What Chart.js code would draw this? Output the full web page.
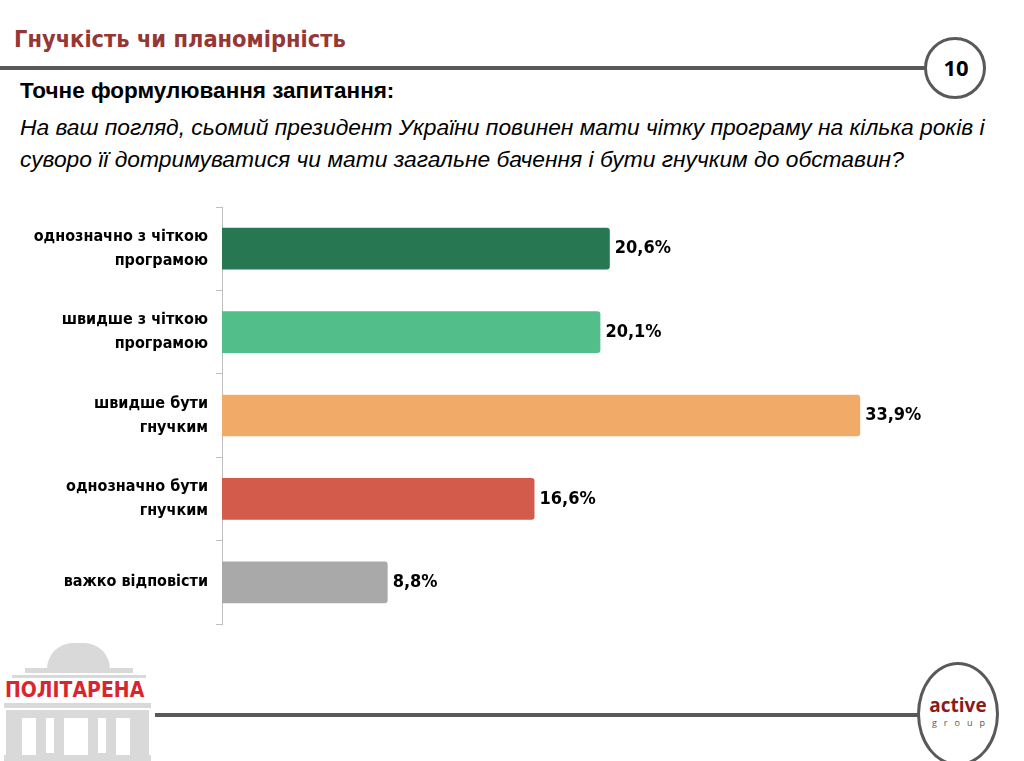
<!DOCTYPE html>
<html>
<head>
<meta charset="utf-8">
<script src="https://cdn.jsdelivr.net/npm/chart.js@4.4.1/dist/chart.umd.min.js"></script>
<style>
  html, body { margin: 0; padding: 0; background: #fff; }
  body { width: 1024px; height: 761px; position: relative; overflow: hidden; font-family: "Liberation Sans", Arial, sans-serif; }
  .title { position: absolute; left: 14px; top: 25px; font-family: "DejaVu Sans Condensed", "DejaVu Sans", sans-serif; font-weight: bold; font-size: 23.4px; color: #953735; }
  .rule { position: absolute; height: 4px; background: #595959; }
  .ring { position: absolute; border: 3px solid #595959; border-radius: 50%; background: #fff; box-sizing: border-box; }
  .num { position: absolute; left: 926px; top: 52px; width: 60px; text-align: center; font-family: "Noto Sans", sans-serif; font-weight: bold; font-size: 22px; color: #000; }
  .lead { position: absolute; left: 20px; top: 78px; font-weight: bold; font-size: 22.5px; color: #000; }
  .question { position: absolute; left: 20px; top: 111px; font-style: italic; font-size: 22.8px; line-height: 32px; color: #000; white-space: nowrap; }
  #wrap { position: absolute; left: 0; top: 200px; width: 1024px; height: 430px; }
  .grey { position: absolute; background: #d9d9d9; }
  .slot { position: absolute; background: #fff; }
  .brand { position: absolute; left: 5px; top: 678px; font-family: "DejaVu Sans Condensed", sans-serif; font-weight: bold; font-size: 21px; color: #d9262e; }
  .active { position: absolute; left: 918px; top: 692px; width: 80px; text-align: center; font-family: "Open Sans", sans-serif; font-weight: bold; font-size: 19px; color: #8b1a1a; }
  .group { position: absolute; left: 922px; top: 716px; width: 80px; text-align: center; font-family: "Open Sans", sans-serif; font-size: 9px; letter-spacing: 7px; color: #555; }
</style>
</head>
<body>
<div class="title">Гнучкість чи планомірність</div>
<div class="rule" style="left:0; top:66px; width:926px;"></div>
<div class="ring" style="left:924px; top:37px; width:62px; height:62px;"></div>
<div class="num">10</div>
<div class="lead">Точне формулювання запитання:</div>
<div class="question">На ваш погляд, сьомий президент України повинен мати чітку програму на кілька років і<br>суворо її дотримуватися чи мати загальне бачення і бути гнучким до обставин?</div>

<div id="wrap"><canvas id="chart"></canvas></div>

<!-- building logo -->
<div class="grey" style="left:47px; top:643px; width:63px; height:26px; border-radius:32px 32px 0 0;"></div>
<div class="grey" style="left:25px; top:668px; width:108px; height:5px;"></div>
<div class="grey" style="left:12px; top:675px; width:134px; height:3px;"></div>
<div class="grey" style="left:4px; top:703px; width:147px; height:5px;"></div>
<div class="grey" style="left:6px; top:710px; width:143px; height:51px;"></div>
<div class="slot" style="left:22px; top:718px; width:14px; height:43px;"></div>
<div class="slot" style="left:46px; top:718px; width:8px; height:35px;"></div>
<div class="slot" style="left:64px; top:718px; width:24px; height:43px;"></div>
<div class="slot" style="left:98px; top:718px; width:8px; height:35px;"></div>
<div class="slot" style="left:116px; top:718px; width:14px; height:43px;"></div>
<div class="grey" style="left:4px; top:755px; width:147px; height:6px;"></div>
<div class="brand">ПОЛІТАРЕНА</div>

<div class="rule" style="left:155px; top:713px; width:765px;"></div>
<div class="ring" style="left:917px; top:662px; width:82px; height:104px;"></div>
<div class="active">active</div>
<div class="group">group</div>

<script>
// categories and values
const categories = [
  ['однозначно з чіткою', 'програмою'],
  ['швидше з чіткою', 'програмою'],
  ['швидше бути', 'гнучким'],
  ['однозначно бути', 'гнучким'],
  'важко відповісти'
];
const shares = [20.6, 20.1, 33.9, 16.6, 8.8];
const barColors = ['#277752', '#52bf8a', '#f2aa68', '#d35b4b', '#a9a9a9'];

const labelFont = '"DejaVu Sans Condensed", "DejaVu Sans", sans-serif';

// value labels at bar ends
const valueLabels = {
  id: 'valueLabels',
  afterDatasetsDraw(chart) {
    const ctx = chart.ctx;
    const meta = chart.getDatasetMeta(0);
    ctx.save();
    ctx.font = 'bold 18px ' + labelFont;
    ctx.fillStyle = '#000';
    ctx.textBaseline = 'middle';
    meta.data.forEach((bar, i) => {
      const txt = shares[i].toFixed(1).replace('.', ',') + '%';
      ctx.fillText(txt, bar.x + 5, bar.y);
    });
    ctx.restore();
  }
};

new Chart(document.getElementById('chart'), {
  type: 'bar',
  data: {
    labels: categories,
    datasets: [{
      data: shares,
      backgroundColor: barColors,
      borderRadius: { topRight: 3, bottomRight: 3 },
      borderSkipped: 'left',
      categoryPercentage: 1,
      barPercentage: 0.5
    }]
  },
  options: {
    indexAxis: 'y',
    responsive: true,
    maintainAspectRatio: false,
    animation: false,
    layout: { padding: { top: 7, bottom: 6, right: 49 } },
    plugins: { legend: { display: false }, tooltip: { enabled: false } },
    scales: {
      x: { display: false, min: 0, max: 40 },
      y: {
        afterFit(scale) {
          scale.width = 222;
          scale.paddingTop = 0;
          scale.paddingBottom = 0;
        },
        border: { display: true, color: '#bfbfbf', width: 1 },
        grid: { offset: true, drawOnChartArea: false, drawTicks: true, tickLength: 6, color: '#bfbfbf' },
        ticks: {
          padding: 8,
          color: '#000',
          font: { family: labelFont, weight: 'bold', size: 16, lineHeight: 1.5 }
        }
      }
    }
  },
  plugins: [valueLabels]
});
</script>
</body>
</html>
